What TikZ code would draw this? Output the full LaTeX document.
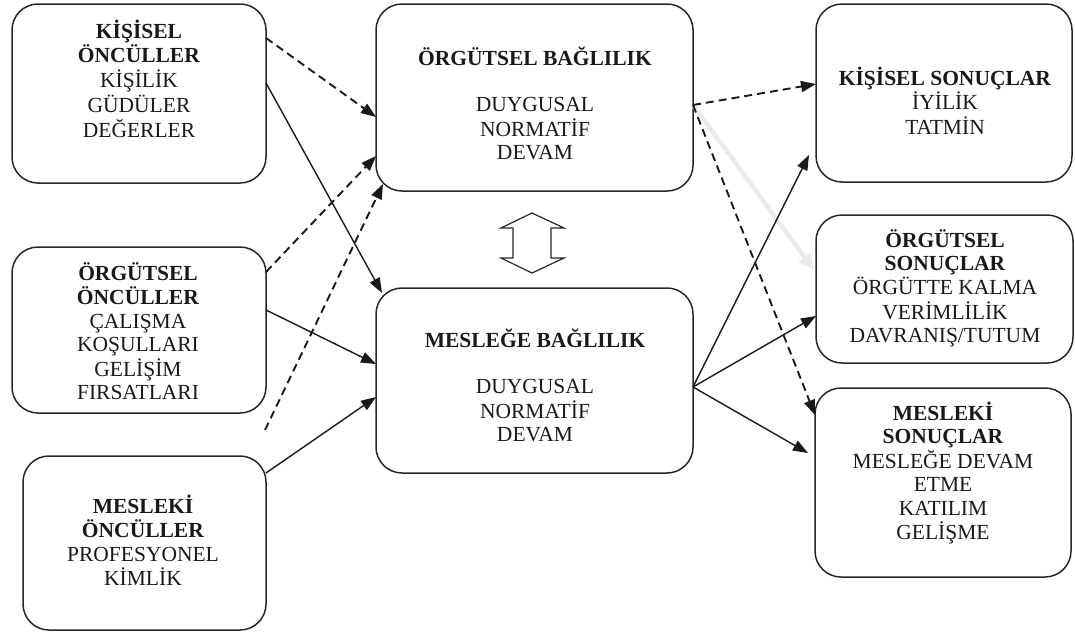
\documentclass[tikz,border=0pt]{standalone}
\usepackage{fontspec}
\setmainfont{Liberation Serif}
\usetikzlibrary{calc,arrows.meta}
\begin{document}
\begin{tikzpicture}[x=1pt,y=-1pt,
  box/.style={draw=black!85, line width=1.5pt, rounded corners=26pt, outer sep=0pt, inner sep=0pt},
  txt/.style={anchor=base, inner sep=0pt, text=black!90, font=\fontsize{21.5}{23.3}\selectfont},
  solidarr/.style={draw=black!90, line width=1.4pt, -{Triangle[length=15pt,width=11pt]}},
  dsh/.style={draw=black!90, line width=1.9pt, dash pattern=on 8pt off 5pt, -{Triangle[length=15pt,width=11pt]}},
  ghost/.style={draw=black!8, line width=4.5pt, -{Triangle[length=16pt,width=14pt]}}]
\useasboundingbox (0,0) rectangle (1075,632);

% antecedent boxes (left column)
\node[box, minimum width=254pt, minimum height=179pt] (k1) at (139,93.5) {};
\node[box, minimum width=254pt, minimum height=166pt] (k2) at (139,330) {};
\node[box, minimum width=243pt, minimum height=174pt] (k3) at (144.5,543) {};
% commitment boxes (middle column)
\node[box, minimum width=317pt, minimum height=187pt] (ob) at (534.5,97.5) {};
\node[box, minimum width=317pt, minimum height=185pt] (mb) at (534.5,380.5) {};
% outcome boxes (right column)
\node[box, minimum width=256pt, minimum height=178pt] (ks) at (944,93) {};
\node[box, minimum width=257pt, minimum height=148pt] (os) at (944.5,289) {};
\node[box, minimum width=256pt, minimum height=189pt] (ms) at (943,482.5) {};

% box texts, positioned by the baseline of their first line
\node[txt] (k1t) at (139,38) {\begin{tabular}[t]{@{}c@{}}\textbf{KİŞİSEL}\\\textbf{ÖNCÜLLER}\\KİŞİLİK\\GÜDÜLER\\DEĞERLER\end{tabular}};
\node[txt] (k2t) at (138,280) {\begin{tabular}[t]{@{}c@{}}\textbf{ÖRGÜTSEL}\\\textbf{ÖNCÜLLER}\\ÇALIŞMA\\KOŞULLARI\\GELİŞİM\\FIRSATLARI\end{tabular}};
\node[txt] (k3t) at (143,513) {\begin{tabular}[t]{@{}c@{}}\textbf{MESLEKİ}\\\textbf{ÖNCÜLLER}\\PROFESYONEL\\KİMLİK\end{tabular}};
\node[txt] (obt) at (535,65) {\begin{tabular}[t]{@{}c@{}}\textbf{ÖRGÜTSEL BAĞLILIK}\\ \\DUYGUSAL\\NORMATİF\\DEVAM\end{tabular}};
\node[txt] (mbt) at (535,347) {\begin{tabular}[t]{@{}c@{}}\textbf{MESLEĞE BAĞLILIK}\\ \\DUYGUSAL\\NORMATİF\\DEVAM\end{tabular}};
\node[txt] (kst) at (945,85) {\begin{tabular}[t]{@{}c@{}}\textbf{KİŞİSEL SONUÇLAR}\\İYİLİK\\TATMİN\end{tabular}};
\node[txt] (ost) at (945,247) {\begin{tabular}[t]{@{}c@{}}\textbf{ÖRGÜTSEL}\\\textbf{SONUÇLAR}\\ÖRGÜTTE KALMA\\VERİMLİLİK\\DAVRANIŞ/TUTUM\end{tabular}};
\node[txt] (mst) at (943,420) {\begin{tabular}[t]{@{}c@{}}\textbf{MESLEKİ}\\\textbf{SONUÇLAR}\\MESLEĞE DEVAM\\ETME\\KATILIM\\GELİŞME\end{tabular}};

% hollow two-way arrow between the two commitment boxes
\draw[draw=black!85, line width=1.2pt, line join=miter]
  (532,213) -- (564,228) -- (551,228) -- (551,258) -- (564,258) -- (532,273)
  -- (501,258) -- (513,258) -- (513,228) -- (501,228) -- cycle;

% faint arrow underneath the others
\draw[ghost] ($(ob.north east)+(0,101)$) -- ($(os.north west)+(-2,55)$);

% antecedents -> commitment
\draw[dsh] ($(k1.north east)+(0,34)$) -- ($(ob.north west)+(0,113)$);
\draw[solidarr] ($(k1.north east)+(0,79)$) -- ($(mb.north west)+(6,5)$);
\draw[dsh] ($(k2.north east)+(0,25)$) -- ($(ob.north west)+(0,152)$);
\coordinate (free) at (265,430);
\draw[dsh] (free) -- ($(ob.south west)+(7,-7)$);
\draw[solidarr] ($(k2.north east)+(0,63)$) -- ($(mb.north west)+(0,76)$);
\draw[solidarr] ($(k3.north east)+(0,17)$) -- ($(mb.north west)+(0,109)$);

% commitment -> outcomes
\draw[dsh] ($(ob.north east)+(0,101)$) -- ($(ks.north west)+(0,80)$);
\draw[dsh] ($(ob.north east)+(0,101)$) -- ($(ms.north west)+(0,27)$);
\draw[solidarr] ($(mb.north east)+(0,99)$) -- ($(ks.south west)+(-7,-27)$);
\draw[solidarr] ($(mb.north east)+(0,99)$) -- ($(os.north west)+(0,101)$);
\draw[solidarr] ($(mb.north east)+(0,99)$) -- ($(ms.north west)+(-7,65)$);
\end{tikzpicture}
\end{document}
